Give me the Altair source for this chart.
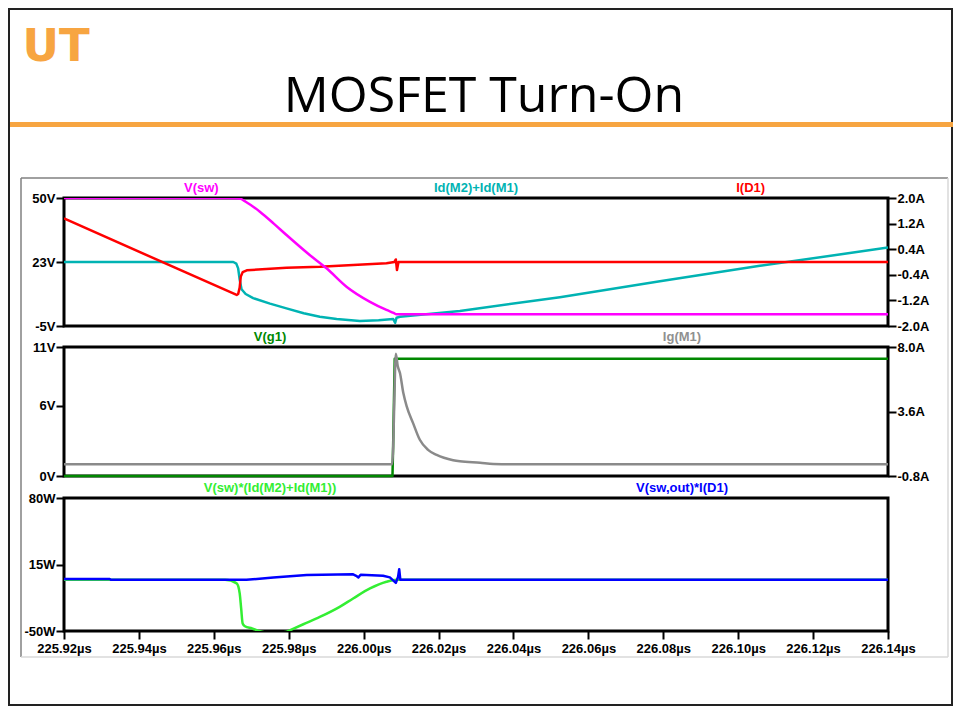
import json
import altair as alt
import pandas as pd

# ---------------- data ----------------
X_MIN, X_MAX = 225.92, 226.14
x_ticks = [225.92, 225.94, 225.96, 225.98, 226.00, 226.02, 226.04, 226.06, 226.08, 226.10, 226.12, 226.14]
x_labels = ["225.92µs", "225.94µs", "225.96µs", "225.98µs", "226.00µs", "226.02µs",
            "226.04µs", "226.06µs", "226.08µs", "226.10µs", "226.12µs", "226.14µs"]

v1_ticks = [-5, 22.5, 50]
v1_labels = ["-5V", "23V", "50V"]
a1_ticks = [-2.0, -1.2, -0.4, 0.4, 1.2, 2.0]
a1_labels = ["-2.0A", "-1.2A", "-0.4A", "\u00a00.4A", "\u00a01.2A", "\u00a02.0A"]
v2_ticks = [0, 6, 11]
v2_labels = ["0V", "6V", "11V"]
a2_ticks = [-0.8, 3.6, 8.0]
a2_labels = ["-0.8A", "\u00a03.6A", "\u00a08.0A"]
w3_ticks = [-50, 15, 80]
w3_labels = ["-50W", "15W", "80W"]

pane1_names = ["V(sw)", "Id(M2)+Id(M1)", "I(D1)"]
pane2_names = ["V(g1)", "Ig(M1)"]
pane3_names = ["V(sw)*(Id(M2)+Id(M1))", "V(sw,out)*I(D1)"]

# V(sw)
t_vsw = [225.92, 225.9630, 225.9660, 225.9672, 225.9684, 225.9723, 225.9760, 225.9794, 225.9856,
         225.9901, 225.9955, 226.0017, 226.0061, 226.0080, 226.0088, 226.1400]
v_sw = [50.0, 50.0, 49.9, 49.6, 48.5, 44.1, 39.0, 34.1, 25.5, 19.8, 11.8, 5.4, 1.9, 0.6, 0.0, 0.0]

# Id(M2)+Id(M1)
t_id = [225.92, 225.9652, 225.9660, 225.9665, 225.9669, 225.9674, 225.9685, 225.9705, 225.9750,
        225.9794, 225.9840, 225.9883, 225.9928, 225.9990, 226.0040, 226.0079, 226.0084, 226.0088,
        226.0097, 226.0257, 226.0524, 226.0791, 226.1058, 226.1400]
i_id = [0.0, 0.0, -0.05, -0.2, -0.55, -0.85, -1.0, -1.13, -1.3, -1.45, -1.6, -1.71, -1.78, -1.84,
        -1.82, -1.78, -1.90, -1.74, -1.71, -1.53, -1.10, -0.60, -0.12, 0.45]

# I(D1)
t_d1 = [225.92, 225.9661, 225.9665, 225.9669, 225.9672, 225.9677, 225.9688, 225.9794, 225.9883,
        225.9972, 226.0061, 226.0082, 226.0086, 226.0089, 226.0093, 226.14]
i_d1 = [1.36, -1.03, -1.0, -0.8, -0.45, -0.32, -0.26, -0.18, -0.15, -0.09, -0.04, 0.0, 0.08,
        -0.25, 0.0, 0.0]

# V(g1)
t_g1 = [225.92, 226.0077, 226.0079, 226.0083, 226.14]
v_g1 = [0.0, 0.0, 3.0, 10.0, 10.0]

# Ig(M1)
t_ig = [225.92, 226.0076, 226.0079, 226.0082, 226.0086, 226.0091, 226.0097, 226.0106, 226.0115,
        226.0132, 226.0150, 226.0172, 226.0195, 226.0239, 226.0257, 226.0311, 226.0346, 226.0400, 226.14]
ig_m1 = [0.0, 0.0, 1.2, 4.5, 7.54, 6.7, 6.23, 4.86, 3.95, 2.81, 1.67, 0.98, 0.64, 0.28, 0.2, 0.1,
         0.02, 0.0, 0.0]

# V(sw)*(Id(M2)+Id(M1))
t_psw = [225.92, 225.9630, 225.9661, 225.9669, 225.9673, 225.9677, 225.9683, 225.9702, 225.9723,
         225.9740, 225.9760, 225.9780, 225.9797, 225.9800, 225.9839, 225.9883, 225.9936, 225.9972,
         226.0017, 226.0061, 226.0088, 226.14]
p_sw = [0.0, 0.0, -3.5, -13.0, -28.0, -42.7, -45.4, -47.5, -50.3, -51.5, -52.0, -51.5, -50.3,
        -49.8, -43.4, -36.3, -26.4, -18.2, -8.4, -1.9, 0.0, 0.0]

# V(sw,out)*I(D1)
t_pd1 = [225.92, 225.9322, 225.9325, 225.9687, 225.9759, 225.9848, 225.9972, 225.9980, 225.9986,
         225.9992, 226.0052, 226.0070, 226.0086, 226.0092, 226.0095, 226.0098, 226.14]
p_d1 = [0.8, 0.8, 0.0, 0.0, 2.4, 4.7, 5.4, 4.0, 2.4, 5.0, 4.0, 2.4, -2.9, 3.0, 10.3, 0.0, 0.0]

# ---------------- layout / style ----------------
W, H = 824, 433
P1 = (128, 0)
P2 = (278, 149)
P3 = (433, 300)
FONT = "Liberation Sans"
ORANGE = "#f7a541"


def lab_expr(ticks, labels):
    return f"{json.dumps(labels, ensure_ascii=False)}[indexof({json.dumps(ticks)}, datum.value)]"


def yaxis(orient, ticks, labels):
    return alt.Axis(orient=orient, values=ticks, labelExpr=lab_expr(ticks, labels), title=None,
                    grid=False, domain=False, ticks=True, tickSize=8, tickWidth=2, tickColor="black",
                    labelFont=FONT, labelFontWeight="bold", labelFontSize=13, labelColor="black",
                    labelPadding=1, labelOverlap=False, labelBound=False, labelFlush=False)


xscale = alt.Scale(domain=[X_MIN, X_MAX], nice=False, zero=False)
xaxis = alt.Axis(orient="bottom", values=x_ticks, labelExpr=lab_expr(x_ticks, x_labels), title=None,
                 grid=False, domain=False, tickSize=8, tickWidth=2, tickColor="black",
                 labelFont=FONT, labelFontWeight="bold", labelFontSize=13, labelColor="black",
                 labelPadding=3, labelOverlap=False, labelFlush=False, labelBound=False)
X = alt.X("t:Q", scale=xscale, axis=xaxis)


def sc(domain, rng):
    return alt.Scale(domain=domain, range=list(rng), nice=False, zero=False)


S_v1 = sc([-5, 50], P1)
S_a1 = sc([-2.0, 2.0], P1)
S_v2 = sc([0, 11], P2)
S_a2 = sc([-0.8, 8.0], P2)
S_w3 = sc([-50, 80], P3)


def trace(t, v, color, scale, axis=None, interp="linear"):
    d = pd.DataFrame({"t": t, "v": v, "i": list(range(len(t)))})
    return alt.Chart(d).mark_line(color=color, strokeWidth=2.5, clip=True, strokeJoin="round",
                                  interpolate=interp).encode(
        x=X, y=alt.Y("v:Q", scale=scale, axis=axis), order=alt.Order("i:Q"))


def frame(scale, top, bottom):
    return alt.Chart(pd.DataFrame({"d": [0]})).mark_rect(
        fillOpacity=0, stroke="black", strokeWidth=3).encode(
        x=alt.X(datum=X_MIN, scale=xscale, axis=xaxis), x2=alt.X2(datum=X_MAX),
        y=alt.Y(datum=top, scale=scale, axis=None), y2=alt.Y2(datum=bottom))


def names(labels, colors, scale, top):
    n = len(labels)
    out = []
    for k, (lab, col) in enumerate(zip(labels, colors)):
        tpos = X_MIN + (X_MAX - X_MIN) * (2 * k + 1) / (2 * n)
        d = pd.DataFrame({"t": [tpos], "v": [top], "s": [lab]})
        out.append(alt.Chart(d).mark_text(color=col, font=FONT, fontSize=13, fontWeight="bold",
                                          baseline="middle", align="center", dy=-10).encode(
            x=X, y=alt.Y("v:Q", scale=scale, axis=None), text="s:N"))
    return out


one = pd.DataFrame({"d": [0]})


def deco_rule(x, x2, y, y2, color, width):
    return alt.Chart(one).mark_rule(color=color, strokeWidth=width).encode(
        x=alt.value(x), x2=alt.value(x2), y=alt.value(y), y2=alt.value(y2))


layers = [
    # slide decorations
    alt.Chart(one).mark_rect(fillOpacity=0, stroke="#222222", strokeWidth=2).encode(
        x=alt.value(-55), x2=alt.value(888), y=alt.value(-189), y2=alt.value(507)),
    alt.Chart(one).mark_text(text="UT", font="DejaVu Sans", fontWeight="bold", fontSize=45,
                             color=ORANGE, align="center", baseline="alphabetic").encode(
        x=alt.value(-8), y=alt.value(-137)),
    alt.Chart(one).mark_text(text="MOSFET Turn-On", font="Open Sans", fontSize=50,
                             color="black", align="center", baseline="alphabetic").encode(
        x=alt.value(420), y=alt.value(-86)),
    deco_rule(-54, 889, -73.5, -73.5, ORANGE, 5),
    deco_rule(-43, 884, -20, -20, "#808080", 1.5),
    deco_rule(-43, -43, -20, 459, "#808080", 1.5),
    deco_rule(-43, 884, 459, 459, "#d8d8d8", 1.5),
    deco_rule(884, 884, -20, 459, "#d8d8d8", 1.5),
    # frames
    frame(S_v1, 50, -5),
    frame(S_v2, 11, 0),
    frame(S_w3, 80, -50),
    # pane 1
    trace(t_id, i_id, "#00b3b3", S_a1, yaxis("right", a1_ticks, a1_labels)),
    trace(t_d1, i_d1, "#ff0000", S_a1),
    trace(t_vsw, v_sw, "#ff00ff", S_v1, yaxis("left", v1_ticks, v1_labels), "monotone"),
    # pane 2
    trace(t_g1, v_g1, "#008800", S_v2, yaxis("left", v2_ticks, v2_labels)),
    trace(t_ig, ig_m1, "#8a8a8a", S_a2, yaxis("right", a2_ticks, a2_labels), "monotone"),
    # pane 3
    trace(t_psw, p_sw, "#33ee33", S_w3, yaxis("left", w3_ticks, w3_labels), "monotone"),
    trace(t_pd1, p_d1, "#0000ff", S_w3),
]
layers += names(pane1_names, ["#ff00ff", "#00b3b3", "#ff0000"], S_v1, 50)
layers += names(pane2_names, ["#008800", "#909090"], S_v2, 11)
layers += names(pane3_names, ["#33ee33", "#0000ff"], S_w3, 80)

chart = alt.layer(*layers).resolve_scale(y="independent").resolve_axis(y="independent").properties(
    width=W, height=H,
    padding={"left": 56, "top": 190, "right": 66, "bottom": 77},
    autosize=alt.AutoSizeParams(type="none"),
    background="white",
).configure_view(strokeWidth=0)

chart.save("out.html", embed_options={"renderer": "svg", "actions": False})
